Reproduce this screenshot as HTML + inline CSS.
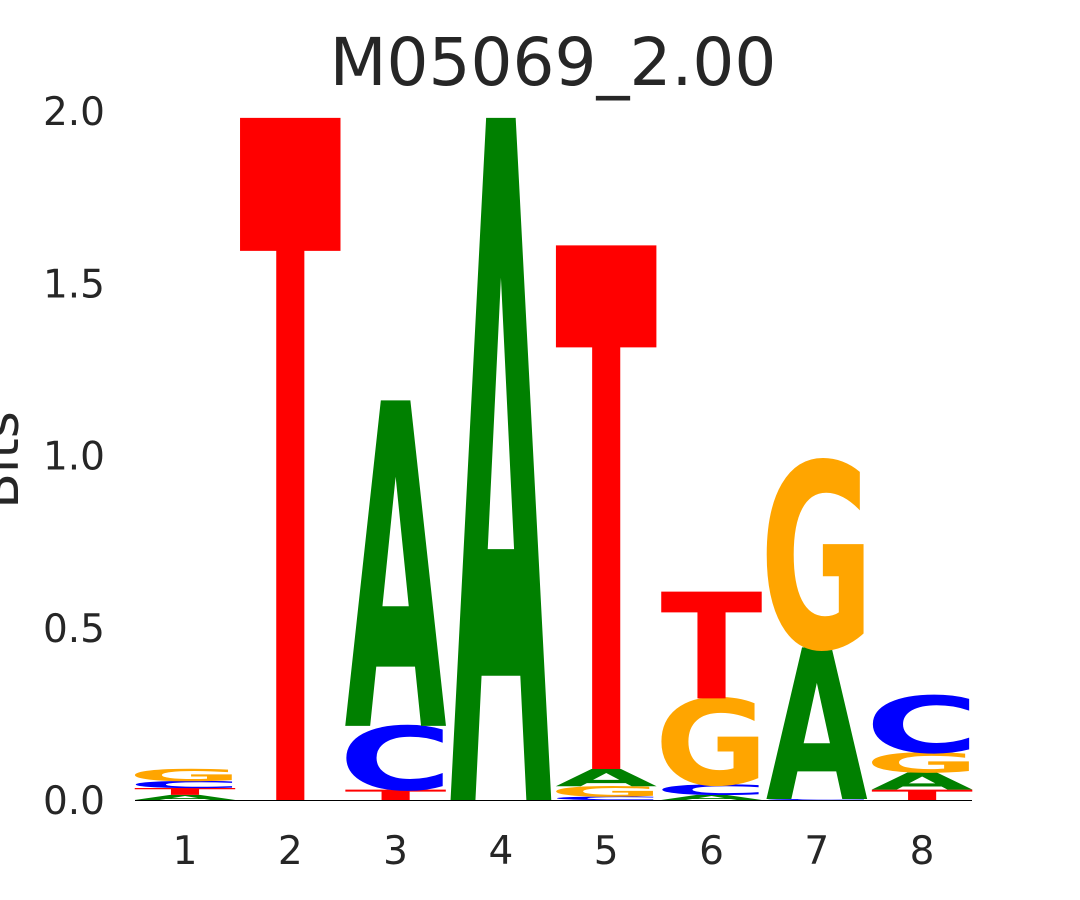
<!DOCTYPE html>
<html><head><meta charset="utf-8"><style>
html,body{margin:0;background:#fff;overflow:hidden;width:1080px;height:900px;}
svg{display:block;font-family:"DejaVu Sans","Liberation Sans",sans-serif;}
</style></head><body>
<svg id="chart" width="1080" height="900" viewBox="0 0 1080 900">
<text x="553" y="85" font-size="66" text-anchor="middle" fill="#262626">M05069_2.00</text>
<text transform="translate(18,460) rotate(-90)" font-size="52" text-anchor="middle" fill="#262626">Bits</text>
<g id="yticks"></g>
<g id="xticks"></g>
<g id="letters"></g>
<line x1="135" x2="972" y1="800.5" y2="800.5" stroke="#000" stroke-width="1"/>
</svg>
<script>
const positions = [1,2,3,4,5,6,7,8];
// stacks bottom -> top: [letter, bits]
const stack1 = [["A",0.015],["T",0.02],["C",0.02],["G",0.035]];
const stack2 = [["T",1.98]];
const stack3 = [["T",0.03],["C",0.185],["A",0.945]];
const stack4 = [["A",1.98]];
const stack5 = [["C",0.01],["G",0.03],["A",0.05],["T",1.52]];
const stack6 = [["A",0.015],["C",0.03],["G",0.25],["T",0.31]];
const stack7 = [["C",0.003],["A",0.44],["G",0.54]];
const stack8 = [["T",0.03],["A",0.05],["G",0.058],["C",0.165]];
const stacks = [stack1,stack2,stack3,stack4,stack5,stack6,stack7,stack8];
const yTicks = [0,0.5,1.0,1.5,2.0];
const yTickLabels = ["0.0","0.5","1.0","1.5","2.0"];
const colors = {A:"#008000",C:"#0000ff",G:"#ffa500",T:"#ff0000"};

const NS="http://www.w3.org/2000/svg";
const y = v => 800 - v*344.5;
const x = p => 185 + (p-1)*105.3;
const colW = 100;
const CAP = 72.9;
const extra = {A:2,T:2,C:14,G:14};

const yg=document.getElementById('yticks');
yTicks.forEach((t,i)=>{
  const e=document.createElementNS(NS,'text');
  
  
  e.setAttribute('x',105);e.setAttribute('y',y(t)+14);
  e.setAttribute('font-size',39);e.setAttribute('text-anchor','end');e.setAttribute('fill','#262626');
  e.textContent=yTickLabels[i];yg.appendChild(e);
});
const xg=document.getElementById('xticks');
positions.forEach(p=>{
  const e=document.createElementNS(NS,'text');
  
  
  e.setAttribute('x',x(p));e.setAttribute('y',864);
  e.setAttribute('font-size',39);e.setAttribute('text-anchor','middle');e.setAttribute('fill','#262626');
  e.textContent=String(p);xg.appendChild(e);
});
const lg=document.getElementById('letters');
stacks.forEach((st,i)=>{
  let cum=0;
  const x0=x(positions[i])-colW/2;
  st.forEach(([L,h])=>{
    const yb=y(cum), yt=y(cum+h);
    const hp=yb-yt;
    cum+=h;
    if(hp<=0.3) return;
    const e=document.createElementNS(NS,'text');
    
    
    e.setAttribute('x',-extra[L]/2);e.setAttribute('y',0);
    e.setAttribute('font-size',100);e.setAttribute('font-weight','bold');
    e.setAttribute('fill',colors[L]);
    e.setAttribute('textLength',colW+extra[L]);
    e.setAttribute('lengthAdjust','spacingAndGlyphs');
    e.setAttribute('transform',`translate(${x0},${yb}) scale(1,${hp/CAP})`);
    e.textContent=L;lg.appendChild(e);
  });
});
</script>
</body></html>
